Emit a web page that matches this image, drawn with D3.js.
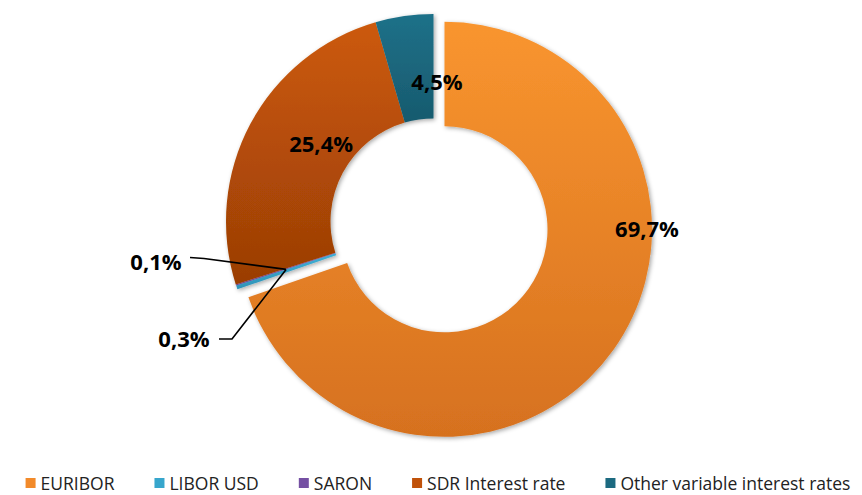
<!DOCTYPE html>
<html>
<head>
<meta charset="utf-8">
<script src="https://cdn.jsdelivr.net/npm/d3@7"></script>
<style>
  html, body { margin: 0; padding: 0; background: #fff; }
  svg { display: block; }
</style>
</head>
<body>
<svg id="chart" width="862" height="495"></svg>
<script>
// Variable-rate breakdown
const categories = ["EURIBOR", "LIBOR USD", "SARON", "SDR Interest rate", "Other variable interest rates"];
const shares = [69.7, 0.3, 0.1, 25.4, 4.5];
const valueLabels = ["69,7%", "0,3%", "0,1%", "25,4%", "4,5%"];

// Fill gradients per slice (top colour, bottom colour) and legend swatches
const sliceTop    = ["#f9952f", "#3fb0d6", "#7d54a8", "#cc5a0a", "#1f7189"];
const sliceBottom = ["#d6711f", "#2e93b8", "#6a4394", "#9a3d05", "#175a6e"];
const swatch      = ["#f28a2a", "#37a6cc", "#7550a3", "#c0520a", "#1c6a80"];

const W = 862, H = 495;
const cx = 433.5, cy = 221.5;
const outerR = 207.5, innerR = 103;
const explode = [13.5, 0, 0, 0, 0];

const svg = d3.select("#chart");
const defs = svg.append("defs");

const shadow = defs.append("filter").attr("id", "shadow")
  .attr("x", "-20%").attr("y", "-20%").attr("width", "140%").attr("height", "140%");
shadow.append("feDropShadow")
  .attr("dx", 1.5).attr("dy", 1.5).attr("stdDeviation", 2)
  .attr("flood-color", "#000").attr("flood-opacity", 0.35);

categories.forEach((c, i) => {
  const g = defs.append("linearGradient").attr("id", "grad" + i)
    .attr("x1", 0).attr("y1", 0).attr("x2", 0).attr("y2", 1);
  g.append("stop").attr("offset", "0%").attr("stop-color", sliceTop[i]);
  g.append("stop").attr("offset", "100%").attr("stop-color", sliceBottom[i]);
});

const pie = d3.pie().sort(null).value(d => d)(shares);
const arc = d3.arc().innerRadius(innerR).outerRadius(outerR);

const pieG = svg.append("g").attr("transform", `translate(${cx},${cy})`)
  .attr("filter", "url(#shadow)");

pieG.selectAll("path.slice")
  .data(pie)
  .join("path")
  .attr("class", "slice")
  .attr("transform", (d, i) => {
    const mid = (d.startAngle + d.endAngle) / 2;
    return `translate(${explode[i] * Math.sin(mid)},${-explode[i] * Math.cos(mid)})`;
  })
  .attr("d", arc)
  .attr("fill", (d, i) => `url(#grad${i})`);

// Label placement: polar offsets (degrees clockwise from top, radius) around the centre
const labelPolar = [
  { a: 91.7, r: 213.6 },
  null,
  null,
  { a: 304.9, r: 137 },
  { a: 1.4, r: 140.5 }
];
const labelFont = "'Open Sans', 'DejaVu Sans', sans-serif";
const labG = svg.append("g");

labelPolar.forEach((p, i) => {
  if (!p) return;
  const a = p.a * Math.PI / 180;
  labG.append("text")
    .attr("x", cx + p.r * Math.sin(a))
    .attr("y", cy - p.r * Math.cos(a))
    .attr("text-anchor", "middle")
    .attr("dominant-baseline", "central")
    .attr("font-family", labelFont)
    .attr("font-weight", 700)
    .attr("font-size", 22)
    .attr("fill", "#000")
    .text(valueLabels[i]);
});

// Leader lines for the two thin slices, meeting at their shared boundary
const thinAngle = pie[1].endAngle;
const anchorR = 155;
const ax = cx + anchorR * Math.sin(thinAngle);
const ay = cy - anchorR * Math.cos(thinAngle);

const leaders = [
  { idx: 2, text: { x: 156, y: 261 }, pts: [[190, 257.5], [204, 258.5]] },
  { idx: 1, text: { x: 184, y: 338 }, pts: [[219, 339], [232, 339]] }
];
leaders.forEach(l => {
  labG.append("text")
    .attr("x", l.text.x).attr("y", l.text.y)
    .attr("text-anchor", "middle")
    .attr("dominant-baseline", "central")
    .attr("font-family", labelFont)
    .attr("font-weight", 700)
    .attr("font-size", 22)
    .attr("fill", "#000")
    .text(valueLabels[l.idx]);
  labG.append("path")
    .attr("d", d3.line()([...l.pts, [ax, ay]]))
    .attr("fill", "none")
    .attr("stroke", "#000")
    .attr("stroke-width", 1.6);
});

// Legend along the bottom, centred
const legendFont = "'Open Sans', 'DejaVu Sans', sans-serif";
const legend = svg.append("g");
const items = legend.selectAll("g.item").data(categories).join("g").attr("class", "item");
items.append("rect").attr("width", 10).attr("height", 10).attr("y", -5)
  .attr("fill", (d, i) => swatch[i]);
items.append("text").attr("x", 15).attr("y", 0)
  .attr("dominant-baseline", "central")
  .attr("font-family", legendFont)
  .attr("font-size", 17.5)
  .attr("fill", "#222")
  .text(d => d);

let xPos = 0;
const gap = 40;
items.each(function () {
  const w = 15 + this.querySelector("text").getComputedTextLength();
  d3.select(this).attr("transform", `translate(${xPos},0)`);
  xPos += w + gap;
});
const total = xPos - gap;
legend.attr("transform", `translate(${438 - total / 2},483)`);
</script>
</body>
</html>
